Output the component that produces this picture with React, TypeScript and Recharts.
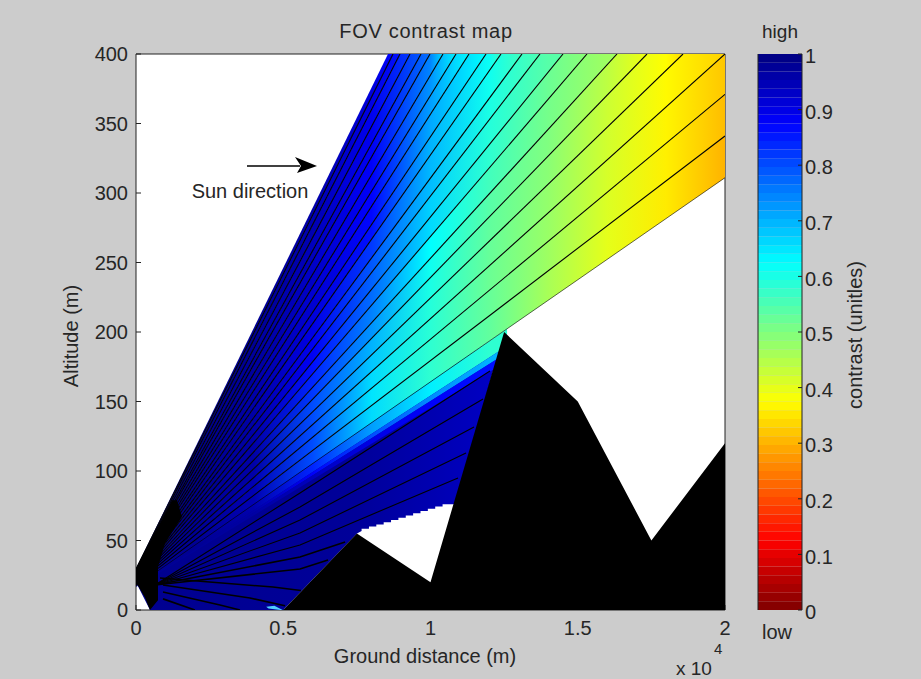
import React from 'react';
import { ScatterChart, Scatter, XAxis, YAxis, BarChart, Bar } from 'recharts';

const FONT = '"Liberation Sans", Arial, sans-serif';
const TEXT = '#262626';

const xTicks = [0, 5000, 10000, 15000, 20000];
const yTicks = [0, 50, 100, 150, 200, 250, 300, 350, 400];
const barTicks = [0, 0.1, 0.2, 0.3, 0.4, 0.5, 0.6, 0.7, 0.8, 0.9, 1];

// ground profile
const terrainX = [5000, 7500, 10000, 12500, 15000, 17500, 20000, 20000];
const terrainY = [0, 55, 20, 200, 150, 50, 120, 0];

// where the camera rays leave the picture, top edge then right edge
const fanOrigin = { x: -441, y: 10.8 };
const fanEndX = [8557, 8727, 8964, 9304, 9677, 9983, 10424, 10866, 11307, 11885, 12394, 13107, 13718, 14499, 15314, 16333, 17351, 18574, 20000, 20000, 20000, 20000];
const fanEndY = [400, 400, 400, 400, 400, 400, 400, 400, 400, 400, 400, 400, 400, 400, 400, 400, 400, 400, 400, 371, 341, 311];

// soft edge of the shadow under the lowest ray
const shadowEndX = [12600, 12600, 12600, 12600];
const shadowEndY = [202.4, 190, 185, 179];

// contrast per wedge, read at these distances
const contrastX = [2000, 4000, 6000, 8000, 10000, 12000, 14000, 16000, 18000, 20000];
const fanContrast = [
  [0.99, 0.98, 0.96, 0.91, 0.87],
  [0.99, 0.98, 0.95, 0.9, 0.86],
  [0.99, 0.98, 0.95, 0.89, 0.82],
  [0.99, 0.97, 0.94, 0.89, 0.79],
  [0.99, 0.97, 0.94, 0.885, 0.765],
  [0.99, 0.97, 0.93, 0.88, 0.745, 0.66],
  [0.99, 0.97, 0.93, 0.88, 0.73, 0.64],
  [0.99, 0.96, 0.92, 0.875, 0.72, 0.63],
  [0.99, 0.96, 0.92, 0.87, 0.71, 0.625],
  [0.99, 0.96, 0.91, 0.86, 0.7, 0.615, 0.57],
  [0.99, 0.96, 0.9, 0.82, 0.695, 0.61, 0.56],
  [0.99, 0.96, 0.89, 0.79, 0.69, 0.6, 0.55],
  [0.99, 0.96, 0.885, 0.78, 0.67, 0.59, 0.54],
  [0.99, 0.96, 0.86, 0.77, 0.66, 0.58, 0.52, 0.49],
  [0.98, 0.96, 0.84, 0.75, 0.625, 0.56, 0.51, 0.47],
  [0.98, 0.96, 0.82, 0.73, 0.61, 0.54, 0.5, 0.44, 0.39],
  [0.98, 0.96, 0.8, 0.7, 0.6, 0.53, 0.49, 0.425, 0.375, 0.34],
  [0.98, 0.96, 0.8, 0.68, 0.59, 0.525, 0.48, 0.42, 0.37, 0.33],
  [0.98, 0.95, 0.8, 0.66, 0.585, 0.52, 0.475, 0.415, 0.365, 0.32],
  [0.98, 0.95, 0.8, 0.65, 0.58, 0.525, 0.47, 0.41, 0.36, 0.31],
  [0.98, 0.95, 0.8, 0.66, 0.58, 0.53, 0.46, 0.4, 0.355, 0.3],
];
const shadowContrast = [
  [0.98, 0.955, 0.84, 0.72, 0.64, 0.58],
  [0.98, 0.96, 0.88, 0.8, 0.74, 0.7],
  [0.975, 0.965, 0.94, 0.9, 0.88, 0.86],
];

// FOV below the shadow edge (its lower side is stepped in the source), and the knot at the camera
const lowerFanX = [0, 12500, 10850, 10410, 10410, 10160, 10160, 9910, 9910, 9660, 9660, 9410, 9410, 9160, 9160, 8910, 8910, 8660, 8660, 8410, 8410, 8160, 8160, 7910, 7910, 7660, 7660, 7504, 5000, 475, 0];
const lowerFanY = [29, 200, 76, 76, 74.4, 74.4, 72.8, 72.8, 71.2, 71.2, 69.6, 69.6, 68, 68, 66.4, 66.4, 64.8, 64.8, 63.2, 63.2, 61.6, 61.6, 60, 60, 58.4, 58.4, 56.8, 55, 0, 0, 20];
const knotX = [0, 1222, 1392, 1562, 985, 747, 747, 475, 306, 0];
const knotY = [29, 79, 79, 67, 48, 31, 7, 0, 9, 20];
const glintX = [4420, 4700, 4980, 4900, 4500];
const glintY = [2.4, 3, 0, 0, 1];

// rays in the shadowed part, near to far
const lowerRays = [
  [[645, 18], [5569, 84.2], [12020, 171.9]],
  [[645, 18], [5569, 74.1], [11783, 151.8]],
  [[645, 18], [5569, 64.7], [11477, 131.7]],
  [[645, 18], [5569, 55.4], [11205, 112.9]],
  [[645, 18], [5569, 46.8], [10934, 95]],
  [[645, 18], [5569, 38.1], [7100, 49]],
  [[645, 18], [5569, 29.5], [6520, 36]],
  [[815, 23], [4652, 16.5], [5600, 14]],
  [[917, 18], [3871, 8.6], [5060, 3]],
  [[917, 13], [2852, 3.6], [3531, 0]],
  [[917, 8], [2000, 0]],
];

const levels = Array.from({ length: 64 }, (_, i) => i);

const clamp01 = (v: number) => Math.max(0, Math.min(1, v));

// jet colormap, flipped so that 1 is the dark blue end
function contrastColor(c: number) {
  const t = 1 - c;
  const r = clamp01(1.5 - Math.abs(4 * t - 3));
  const g = clamp01(1.5 - Math.abs(4 * t - 2));
  const b = clamp01(1.5 - Math.abs(4 * t - 1));
  return `rgb(${Math.round(r * 255)},${Math.round(g * 255)},${Math.round(b * 255)})`;
}

const toPoints = (xs: number[], ys: number[]) => xs.map((x, i) => ({ x, y: ys[i] }));

const noDot = () => <g />;

const pathOf = (points: any[]) =>
  points.map((p, i) => `${i === 0 ? 'M' : 'L'}${p.x},${p.y}`).join(' ');

const polygon = (fill: string) => (props: any) => (
  <path d={pathOf(props.points) + ' Z'} fill={fill} stroke="none" />
);

const ray = (width: number) => (props: any) => (
  <path d={pathOf(props.points)} fill="none" stroke="#000" strokeWidth={width} />
);

function wedge(endX: number[], endY: number[], i: number) {
  return [fanOrigin, { x: endX[i], y: endY[i] }, { x: endX[i + 1], y: endY[i + 1] }];
}

function gradientStops(row: number[], farX: number) {
  return row.map((c, k) => (
    <stop
      key={k}
      offset={clamp01((contrastX[k] - fanOrigin.x) / (farX - fanOrigin.x))}
      stopColor={contrastColor(c)}
    />
  ));
}

const blankTick = () => '';

export default function App() {
  const fanWedges = fanContrast.map((_, i) => wedge(fanEndX, fanEndY, i));
  const shadowWedges = shadowContrast.map((_, i) => wedge(shadowEndX, shadowEndY, i));
  const label = { fontSize: 20, fontFamily: FONT, fill: TEXT };

  return (
    <div style={{ position: 'absolute', left: 0, top: 0, width: 921, height: 679, background: '#cccccc', fontFamily: FONT }}>
      <ScatterChart
        width={921}
        height={679}
        margin={{ top: 0, right: 0, bottom: 0, left: 0 }}
        style={{ position: 'absolute', left: 0, top: 0 }}
      >
        <defs>
          <linearGradient id="lowerFanFill" x1="0" y1="0" x2="1" y2="0">
            <stop offset={0} stopColor={contrastColor(0.985)} />
            <stop offset={0.6} stopColor={contrastColor(0.975)} />
            <stop offset={1} stopColor={contrastColor(0.93)} />
          </linearGradient>
          {fanContrast.map((row, i) => (
            <linearGradient key={i} id={`fan${i}`} x1="0" y1="0" x2="1" y2="0">
              {gradientStops(row, Math.max(fanEndX[i], fanEndX[i + 1]))}
            </linearGradient>
          ))}
          {shadowContrast.map((row, i) => (
            <linearGradient key={i} id={`shadow${i}`} x1="0" y1="0" x2="1" y2="0">
              {gradientStops(row, Math.max(shadowEndX[i], shadowEndX[i + 1]))}
            </linearGradient>
          ))}
        </defs>

        <rect x={136} y={54} width={589} height={556} fill="#fff" />

        <Scatter data={toPoints(lowerFanX, lowerFanY)} shape={noDot} line={polygon('url(#lowerFanFill)')} isAnimationActive={false} />
        {fanWedges.map((pts, i) => (
          <Scatter key={`f${i}`} data={pts} shape={noDot} line={polygon(`url(#fan${i})`)} isAnimationActive={false} />
        ))}
        {shadowWedges.map((pts, i) => (
          <Scatter key={`s${i}`} data={pts} shape={noDot} line={polygon(`url(#shadow${i})`)} isAnimationActive={false} />
        ))}
        <Scatter data={toPoints(glintX, glintY)} shape={noDot} line={polygon('#4fd0ff')} isAnimationActive={false} />

        {fanEndX.slice(1).map((x, i) => (
          <Scatter key={`r${i}`} data={[fanOrigin, { x, y: fanEndY[i + 1] }]} shape={noDot} line={ray(i === fanEndX.length - 2 ? 0.6 : 1.1)} isAnimationActive={false} />
        ))}
        {lowerRays.map((r, i) => (
          <Scatter key={`l${i}`} data={r.map(([x, y]) => ({ x, y }))} shape={noDot} line={ray(i > 4 ? 1.6 : 1.1)} isAnimationActive={false} />
        ))}

        <Scatter data={toPoints(knotX, knotY)} shape={noDot} line={polygon('#000')} isAnimationActive={false} />
        <Scatter data={toPoints(terrainX, terrainY)} shape={noDot} line={polygon('#000')} isAnimationActive={false} />

        <XAxis
          dataKey="x"
          type="number"
          domain={[0, 20000]}
          ticks={xTicks}
          allowDataOverflow
          height={69}
          tickSize={-5}
          tickMargin={16}
          stroke="#222"
          tick={{ fill: TEXT, fontSize: 20, fontFamily: FONT }}
          tickFormatter={(v: number) => String(v / 10000)}
        />
        <YAxis
          dataKey="y"
          type="number"
          domain={[0, 400]}
          ticks={yTicks}
          allowDataOverflow
          width={136}
          tickSize={-5}
          tickMargin={13}
          stroke="#222"
          tick={{ fill: TEXT, fontSize: 20, fontFamily: FONT }}
        />
        <XAxis xAxisId="top" orientation="top" type="number" domain={[0, 20000]} ticks={xTicks} height={54} tickSize={-5} stroke="#222" tickFormatter={blankTick} />
        <YAxis yAxisId="right" orientation="right" type="number" domain={[0, 400]} ticks={yTicks} width={196} tickSize={-5} stroke="#222" tickFormatter={blankTick} />

        <path d="M247,166 L300,166" stroke="#000" strokeWidth={1.5} fill="none" />
        <path d="M295,157 L317,166 L297,173 L301,166 Z" fill="#000" />
        <text x={250} y={198} textAnchor="middle" {...label}>Sun direction</text>
        <text x={426} y={38} textAnchor="middle" {...label} letterSpacing={0.7}>FOV contrast map</text>
        <text x={425} y={663} textAnchor="middle" {...label}>Ground distance (m)</text>
        <text x={78} y={336} textAnchor="middle" {...label} transform="rotate(-90 78 336)">Altitude (m)</text>
        <text x={676} y={675} {...label} fontSize={19}>x 10</text>
        <text x={714} y={654} {...label} fontSize={15}>4</text>
      </ScatterChart>

      <div style={{ position: 'absolute', left: 738, top: 0 }}>
        <BarChart
          width={130}
          height={679}
          data={[Object.fromEntries(levels.map((l) => [`l${l}`, 1 / 64]))]}
          barCategoryGap={0}
          margin={{ top: 54, right: 0, bottom: 69, left: 0 }}
        >
          <XAxis hide />
          <YAxis orientation="left" yAxisId="left" type="number" domain={[0, 1]} ticks={barTicks} width={20} tickSize={-4} stroke="#222" tickFormatter={blankTick} />
          <YAxis orientation="right" type="number" domain={[0, 1]} ticks={barTicks} width={66} tickSize={-4} tickMargin={7} stroke="#222" interval={0} tick={{ fill: TEXT, fontSize: 20, fontFamily: FONT, dy: 2 }} />
          {levels.map((l) => (
            <Bar key={l} dataKey={`l${l}`} stackId="bar" fill={contrastColor((l + 0.5) / 64)} isAnimationActive={false} />
          ))}
        </BarChart>
      </div>

      <svg width={921} height={679} style={{ position: 'absolute', left: 0, top: 0, pointerEvents: 'none' }}>
        <text x={780} y={38} textAnchor="middle" {...label} fontSize={19}>high</text>
        <text x={777} y={639} textAnchor="middle" {...label}>low</text>
        <text x={862} y={335} textAnchor="middle" {...label} transform="rotate(-90 862 335)">contrast (unitles)</text>
      </svg>
    </div>
  );
}
